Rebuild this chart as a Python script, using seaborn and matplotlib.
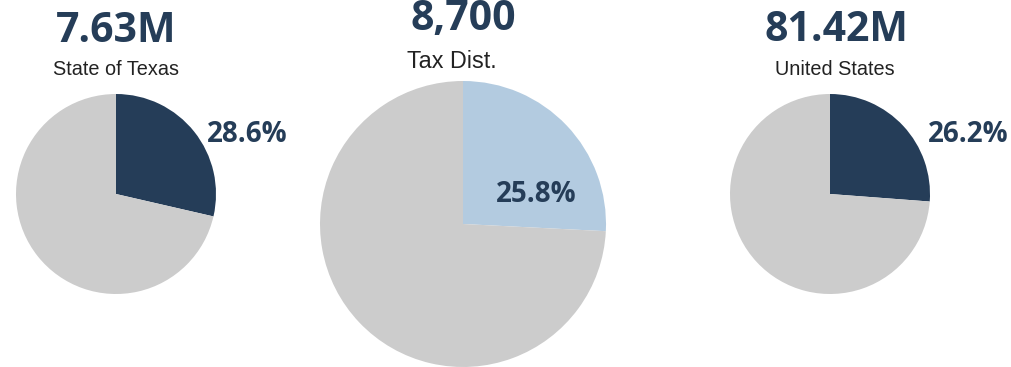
import matplotlib
matplotlib.use("Agg")
import matplotlib.pyplot as plt
import seaborn as sns

sns.set_style("white")
plt.rcParams['font.family'] = ['Liberation Sans', 'DejaVu Sans']

# Data
regions = ["State of Texas", "Tax Dist.", "United States"]
totals = ["7.63M", "8,700", "81.42M"]
shares = [28.6, 25.8, 26.2]
highlight_colors = ["#253D58", "#B3CBE0", "#253D58"]
rest_color = "#CCCCCC"
num_color = "#253D58"

W, H = 1011, 367
fig = plt.figure(figsize=(W / 100, H / 100), dpi=100)

# layout in pixels: (center x, center y, radius)
geo = [(116, 194, 100), (463, 224, 143), (830, 194, 100)]
title_pos = [(116, 42), (463, 30), (836, 41)]
label_pos = [(116, 75), (452, 68), (835, 75)]
label_size = [14.3, 16.8, 14.3]
pct_pos = [(247, 142), (536, 202), (968, 142)]

for i in range(3):
    cx, cy, r = geo[i]
    ax = fig.add_axes([(cx - r) / W, 1 - (cy + r) / H, 2 * r / W, 2 * r / H])
    wedges, _ = ax.pie([shares[i], 100 - shares[i]],
                       colors=[highlight_colors[i], rest_color],
                       startangle=90, counterclock=False,
                       wedgeprops=dict(linewidth=0))
    for w in wedges:
        w.set_clip_on(False)
    ax.set_xlim(-1, 1)
    ax.set_ylim(-1, 1)
    ax.set_aspect('equal')
    ax.axis('off')

    tx, ty = title_pos[i]
    fig.text(tx / W, 1 - ty / H, totals[i], ha='center', va='baseline',
             fontsize=29.5, fontweight='bold', color=num_color, family=['Open Sans', 'DejaVu Sans'])
    lx, ly = label_pos[i]
    fig.text(lx / W, 1 - ly / H, regions[i], ha='center', va='baseline',
             fontsize=label_size[i], color='#222222')
    px, py = pct_pos[i]
    fig.text(px / W, 1 - py / H, f"{shares[i]:.1f}%", ha='center', va='baseline',
             fontsize=20, fontweight='bold', color=num_color, family=['Open Sans', 'DejaVu Sans'])

fig.savefig("out.png", dpi=100)
